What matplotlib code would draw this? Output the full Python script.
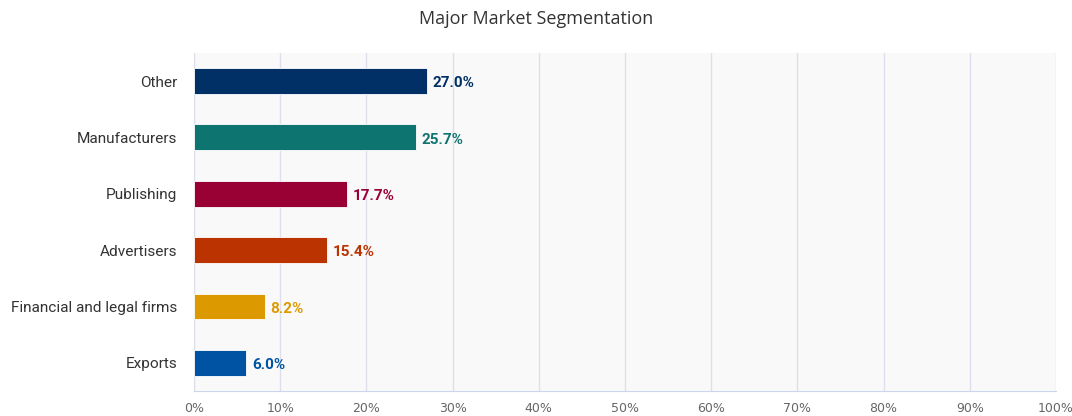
import matplotlib
matplotlib.use("Agg")
import matplotlib.pyplot as plt
from matplotlib.ticker import FuncFormatter

categories = ["Other", "Manufacturers", "Publishing", "Advertisers",
              "Financial and legal firms", "Exports"]
shares = [27.0, 25.7, 17.7, 15.4, 8.2, 6.0]
colors = ["#003066", "#0e7470", "#990033", "#bb3300", "#dd9900", "#0052a3"]
xticks = [0, 10, 20, 30, 40, 50, 60, 70, 80, 90, 100]

fig = plt.figure(figsize=(10.72, 4.16), dpi=100)
ax = fig.add_axes([0.181, 0.060, 0.804, 0.813])
ax.set_facecolor("#f9f9f9")

pos = list(range(len(categories)))[::-1]
ax.barh(pos, shares, height=0.46, color=colors, edgecolor="white", linewidth=0.6, zorder=3)

for y, v, c in zip(pos, shares, colors):
    ax.text(v + 0.7, y - 0.04, "%.1f%%" % v, va="center", ha="left", color=c,
            fontsize=11, fontweight="bold", family="Roboto")

ax.set_xlim(0, 100)
ax.set_ylim(-0.5, 5.5)
ax.set_yticks(pos)
ax.set_yticklabels(categories, fontsize=11.1, family="Roboto", color="#333333")
ax.set_xticks(xticks)
ax.xaxis.set_major_formatter(FuncFormatter(lambda x, p: "%d%%" % x))
for lab in ax.get_xticklabels():
    lab.set_family("DejaVu Sans")
    lab.set_fontsize(9)
    lab.set_color("#666666")
ax.tick_params(axis="both", length=0)
ax.tick_params(axis="y", pad=12)
ax.tick_params(axis="x", pad=8)

ax.grid(axis="x", color="#dde0ec", linewidth=1, zorder=0)
for s in ["top", "right"]:
    ax.spines[s].set_visible(False)
ax.spines["left"].set_color("#dde0ec")
ax.spines["bottom"].set_color("#ccd6eb")

fig.text(0.5, 0.955, "Major Market Segmentation", ha="center", va="center",
         fontsize=13, family="Open Sans", color="#333333")

fig.savefig("out.png", dpi=100)
